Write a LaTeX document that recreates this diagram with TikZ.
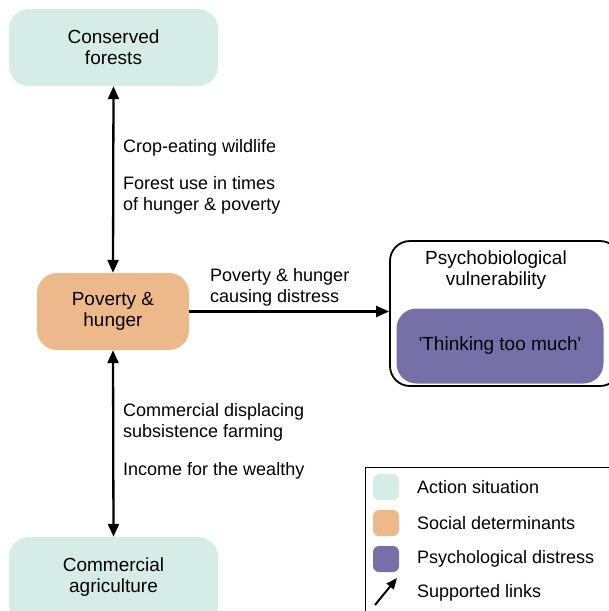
\documentclass[tikz,border=0pt]{standalone}
\usepackage{fontspec}
\setmainfont{Liberation Sans}
\usetikzlibrary{arrows.meta}
\definecolor{teal0}{HTML}{D6ECE6}
\definecolor{orng}{HTML}{EDB88A}
\definecolor{purp}{HTML}{7670A8}
\newcommand{\sq}{\XeTeXglyph\XeTeXcharglyph"0027\relax}
\tikzset{
  big/.style={font=\fontsize{19}{21}\selectfont},
  box/.style={big, rounded corners=20pt, align=center, inner sep=0pt},
  lbl/.style={anchor=west, align=left, font=\fontsize{18}{21}\selectfont, inner sep=0pt},
  link/.style={line width=2.3pt, -{Triangle[length=13pt,width=11pt]}},
  dlink/.style={line width=2.3pt, {Triangle[length=13pt,width=11pt]}-{Triangle[length=13pt,width=11pt]}},
  swatch/.style={rounded corners=6pt, minimum size=26pt, inner sep=0pt}
}
\begin{document}
\begin{tikzpicture}[x=1pt,y=-1pt]
\useasboundingbox (0,0) rectangle (609,611);
\clip (0,0) rectangle (609,611);
\node[box, fill=teal0, minimum width=209pt, minimum height=77pt] (forest) at (113.5,47.5) {Conserved\\forests};
\node[box, fill=orng, minimum width=152pt, minimum height=77pt] (pov) at (113,311.5) {Poverty \&\\hunger};
\node[box, fill=teal0, minimum width=209pt, minimum height=88pt] (agri) at (113.5,581) {};
\node[big, align=center, inner sep=0pt] (agrit) at (113.5,577) {Commercial\\agriculture};
\node[draw, line width=1.8pt, rounded corners=20pt, minimum width=230pt, minimum height=145pt, inner sep=0pt] (psy) at (505,313.5) {};
\node[big, align=center, inner sep=0pt] (psyt) at (496,270) {Psychobiological\\vulnerability};
\node[box, fill=purp, minimum width=207pt, minimum height=75pt] (think) at (500,346) {\sq Thinking too much\sq};
\draw[dlink] (forest.south) -- (pov.north);
\draw[dlink] (pov.south) -- (agri.north);
\draw[link] (pov.east) -- (pov.east -| psy.west);
\node[lbl] (l1) at (123,148) {Crop-eating wildlife};
\node[lbl] (l2) at (123,195) {Forest use in times\\of hunger \& poverty};
\node[lbl] (l3) at (210,287) {Poverty \& hunger\\causing distress};
\node[lbl] (l4) at (123,422) {Commercial displacing\\subsistence farming};
\node[lbl] (l5) at (123,471) {Income for the wealthy};
\node[draw, line width=0.8pt, minimum width=260pt, minimum height=160pt, inner sep=0pt] (leg) at (495,547) {};
\node[swatch, fill=teal0] (s1) at (386,487) {};
\node[swatch, fill=orng] (s2) at (386,523) {};
\node[swatch, fill=purp] (s3) at (386,559) {};
\coordinate (a0) at (375,605);
\coordinate (a1) at (397,578);
\draw[line width=2pt, -{Triangle[length=11pt,width=9pt]}] (a0) -- (a1);
\node[lbl] (t1) at (417,487) {Action situation};
\node[lbl] (t2) at (417,523) {Social determinants};
\node[lbl] (t3) at (417,559) {Psychological distress};
\node[lbl] (t4) at (417,593) {Supported links};
\end{tikzpicture}
\end{document}
